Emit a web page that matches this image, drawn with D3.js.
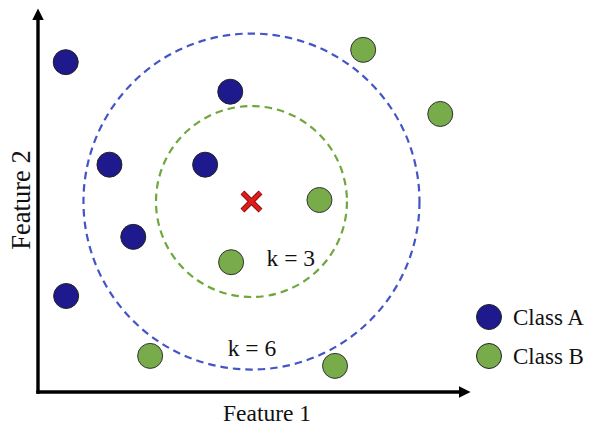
<!DOCTYPE html>
<html>
<head>
<meta charset="utf-8">
<script src="https://cdn.jsdelivr.net/npm/d3@7"></script>
<style>
  html, body { margin: 0; padding: 0; background: #fff; }
  svg { display: block; }
  text { font-family: "Liberation Serif", "Times New Roman", serif; fill: #111; }
</style>
</head>
<body>
<svg id="chart" width="589" height="426"></svg>
<script>
// ---- data (feature units, 0–100 on each axis) ----
const classAX = [6.4, 44.4, 16.5, 38.6, 22.0, 6.5];
const classAY = [85.9, 78.2, 59.2, 59.2, 40.4, 25.0];
const classBX = [75.1, 92.9, 65.0, 44.6, 25.9, 68.6];
const classBY = [89.1, 72.4, 50.0, 33.8, 9.4, 6.8];
const queryPoint = [49.3, 49.6];
const kValues = [3, 6];
const kRadii = [22.05, 38.8];          // neighbourhood radius, feature-1 units
const kLabelX = [58.4, 49.4];
const kLabelY = [32.9, 9.4];
const classNames = ["Class A", "Class B"];
const axisTitles = ["Feature 1", "Feature 2"];

// ---- layout ----
const svg = d3.select("#chart");
const x = d3.scaleLinear().domain([0, 100]).range([38, 471]);
const y = d3.scaleLinear().domain([0, 100]).range([392, 8]);
const colA = "#1e1a8e", colB = "#78ac4a";
const ringCols = ["#6ea83c", "#4355c6"];
const ptR = 12.5;

// neighbourhood rings
svg.selectAll("circle.ring").data(kValues).join("circle")
  .attr("class", "ring")
  .attr("cx", x(queryPoint[0])).attr("cy", y(queryPoint[1]))
  .attr("r", (d, i) => x(kRadii[i]) - x(0))
  .attr("fill", "none")
  .attr("stroke", (d, i) => ringCols[i])
  .attr("stroke-width", 2.2)
  .attr("stroke-dasharray", "7.5,5");

// axes with arrows
svg.append("defs").append("marker")
  .attr("id", "arrow").attr("viewBox", "0 0 10 10")
  .attr("refX", 0).attr("refY", 5)
  .attr("markerWidth", 3.4).attr("markerHeight", 3.4)
  .attr("markerUnits", "strokeWidth")
  .attr("orient", "auto")
  .append("path").attr("d", "M0,0 L10,5 L0,10 Z").attr("fill", "#000");

svg.append("line")
  .attr("x1", x(0)).attr("y1", y(0) + 1.7)
  .attr("x2", x(0)).attr("y2", y(100) + 12)
  .attr("stroke", "#000").attr("stroke-width", 3.4)
  .attr("marker-end", "url(#arrow)");
svg.append("line")
  .attr("x1", x(0) - 1.7).attr("y1", y(0))
  .attr("x2", x(100) - 12).attr("y2", y(0))
  .attr("stroke", "#000").attr("stroke-width", 3.4)
  .attr("marker-end", "url(#arrow)");

// points
const ptsA = classAX.map((v, i) => [v, classAY[i]]);
const ptsB = classBX.map((v, i) => [v, classBY[i]]);
svg.selectAll("circle.a").data(ptsA).join("circle")
  .attr("class", "a")
  .attr("cx", d => x(d[0])).attr("cy", d => y(d[1])).attr("r", ptR)
  .attr("fill", colA).attr("stroke", "#222").attr("stroke-width", 1);
svg.selectAll("circle.b").data(ptsB).join("circle")
  .attr("class", "b")
  .attr("cx", d => x(d[0])).attr("cy", d => y(d[1])).attr("r", ptR)
  .attr("fill", colB).attr("stroke", "#333").attr("stroke-width", 1);

// query X
const qx = x(queryPoint[0]), qy = y(queryPoint[1]), h = 9;
const cross = `M${qx - h},${qy - h}L${qx + h},${qy + h}M${qx + h},${qy - h}L${qx - h},${qy + h}`;
svg.append("path").attr("d", cross).attr("stroke", "#8a1010").attr("stroke-width", 5.5).attr("fill", "none");
svg.append("path").attr("d", cross).attr("stroke", "#e01b1b").attr("stroke-width", 3.5).attr("fill", "none");

// k labels
svg.selectAll("text.k").data(kValues).join("text")
  .attr("class", "k")
  .attr("x", (d, i) => x(kLabelX[i])).attr("y", (d, i) => y(kLabelY[i]))
  .attr("text-anchor", "middle").attr("font-size", 23.5)
  .text(d => `k = ${d}`);

// axis titles
svg.append("text").attr("x", 267).attr("y", 421)
  .attr("text-anchor", "middle").attr("font-size", 23.5).text(axisTitles[0]);
svg.append("text").attr("transform", "translate(30,200) rotate(-90)")
  .attr("text-anchor", "middle").attr("font-size", 26.5).text(axisTitles[1]);

// legend
const lg = svg.append("g").attr("transform", "translate(489,317)");
classNames.forEach((name, i) => {
  const g = lg.append("g").attr("transform", `translate(0,${i * 39})`);
  g.append("circle").attr("r", ptR).attr("fill", i === 0 ? colA : colB)
    .attr("stroke", "#222").attr("stroke-width", 1);
  g.append("text").attr("x", 24).attr("y", 8).attr("font-size", 23).text(name);
});
</script>
</body>
</html>
